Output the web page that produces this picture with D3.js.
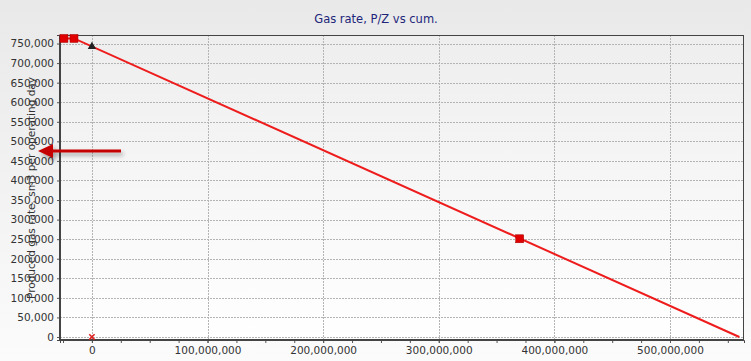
<!DOCTYPE html>
<html><head><meta charset="utf-8">
<script src="https://cdn.jsdelivr.net/npm/d3@7"></script>
<style>body{margin:0;background:#fff}svg{display:block}</style>
</head><body>
<svg id="c" width="751" height="361"></svg>
<script>
const title = "Gas rate, P/Z vs cum.";
const yTitle = "Produced gas rate, sm3 per operating day";
const xTicks = [0, 100e6, 200e6, 300e6, 400e6, 500e6];
const yTicks = [0,50000,100000,150000,200000,250000,300000,350000,400000,450000,500000,550000,600000,650000,700000,750000];
const lineX = [-24.2e6, -15.5e6, 560e6];
const lineY = [763000, 763000, 0];
const squareX = [-24.2e6, -15.5e6, 370e6];
const squareY = [763000, 763000, 251000];
const triX = [0];
const triY = [742000];
const crossX = [0];
const crossY = [0];

const svg = d3.select("#c");
const W = 751, H = 361;
const m = {l:60, r:7, t:35, b:21};
const defs = svg.append("defs");
const g1 = defs.append("linearGradient").attr("id","bg").attr("x1",0).attr("y1",0).attr("x2",0).attr("y2",1);
g1.append("stop").attr("offset","0%").attr("stop-color","#e9e9e9");
g1.append("stop").attr("offset","100%").attr("stop-color","#fbfbfb");
const g2 = defs.append("linearGradient").attr("id","pbg").attr("x1",0).attr("y1",0).attr("x2",0).attr("y2",1);
g2.append("stop").attr("offset","0%").attr("stop-color","#eeeeee");
g2.append("stop").attr("offset","100%").attr("stop-color","#ffffff");
const sh = defs.append("filter").attr("id","sh").attr("x","-20%").attr("y","-50%").attr("width","140%").attr("height","200%");
sh.append("feDropShadow").attr("dx",2).attr("dy",3).attr("stdDeviation",2).attr("flood-color","#000").attr("flood-opacity",0.35);

svg.append("rect").attr("width",W).attr("height",H).attr("fill","url(#bg)");

const x = d3.scaleLinear().domain([-27.6e6, 564e6]).range([m.l, W-m.r]);
const y = d3.scaleLinear().domain([-7700, 771800]).range([H-m.b, m.t]);

svg.append("rect").attr("x",m.l).attr("y",m.t).attr("width",W-m.r-m.l).attr("height",H-m.b-m.t).attr("fill","url(#pbg)");

// grid
svg.append("g").selectAll("line").data(yTicks).join("line")
  .attr("x1",m.l).attr("x2",W-m.r).attr("y1",d=>Math.round(y(d))+0.5).attr("y2",d=>Math.round(y(d))+0.5)
  .attr("stroke","#b4b4b4").attr("stroke-dasharray","2,1");
svg.append("g").selectAll("line").data(xTicks).join("line")
  .attr("y1",m.t).attr("y2",H-m.b).attr("x1",d=>Math.round(x(d))+0.5).attr("x2",d=>Math.round(x(d))+0.5)
  .attr("stroke","#b4b4b4").attr("stroke-dasharray","2,1");

// axes
const fmt = d3.format(",");
svg.append("g").attr("transform",`translate(0,${H-m.b})`)
  .call(d3.axisBottom(x).tickValues(xTicks).tickFormat(fmt).tickSize(3).tickPadding(4));
const minor = d3.range(-25e6, 564e6, 25e6);
svg.append("g").attr("transform",`translate(0,${H-m.b})`)
  .call(d3.axisBottom(x).tickValues(minor).tickFormat("").tickSize(3))
  .call(g=>g.select(".domain").remove());
svg.append("g").attr("transform",`translate(${m.l},0)`)
  .call(d3.axisLeft(y).tickValues(yTicks).tickFormat(fmt).tickSize(3).tickPadding(3));
svg.selectAll(".tick text").attr("font-family","DejaVu Sans, Verdana, sans-serif").attr("font-size","10.5px").attr("fill","#333");
svg.selectAll(".tick line").attr("stroke","#555");
svg.selectAll(".domain").attr("stroke","#444");

// border
svg.append("rect").attr("x",m.l+0.5).attr("y",m.t+0.5).attr("width",W-m.r-m.l-1).attr("height",H-m.b-m.t-1)
  .attr("fill","none").attr("stroke","#444").attr("stroke-width",1);
svg.append("line").attr("x1",m.l).attr("x2",m.l).attr("y1",m.t).attr("y2",H-m.b+1).attr("stroke","#444").attr("stroke-width",2);
svg.append("line").attr("x1",m.l).attr("x2",W-m.r).attr("y1",H-m.b).attr("y2",H-m.b).attr("stroke","#444").attr("stroke-width",2);

// title
svg.append("text").attr("x",376).attr("y",23).attr("text-anchor","middle")
  .attr("font-family","DejaVu Sans, Verdana, sans-serif").attr("font-size","11.5px").attr("fill","#22267a").text(title);
// y title
svg.append("text").attr("transform","translate(35,188) rotate(-90)").attr("text-anchor","middle")
  .attr("font-family","DejaVu Sans, Verdana, sans-serif").attr("font-size","10.5px").attr("fill","#333").text(yTitle);

// data
const pts = lineX.map((d,i)=>[d,lineY[i]]);
svg.append("path").datum(pts).attr("d",d3.line().x(d=>x(d[0])).y(d=>y(d[1])))
  .attr("fill","none").attr("stroke","#ee1c1c").attr("stroke-width",2);
svg.append("g").selectAll("rect").data(squareX.map((d,i)=>[d,squareY[i]])).join("rect")
  .attr("x",d=>x(d[0])-4).attr("y",d=>y(d[1])-4).attr("width",8).attr("height",8)
  .attr("fill","#e10000").attr("stroke","#a00000").attr("stroke-width",0.5);
svg.append("g").selectAll("path").data(triX.map((d,i)=>[d,triY[i]])).join("path")
  .attr("d",d3.symbol(d3.symbolTriangle,30)).attr("transform",d=>`translate(${x(d[0])},${y(d[1])})`)
  .attr("fill","#222");
svg.append("g").selectAll("path").data(crossX.map((d,i)=>[d,crossY[i]])).join("path")
  .attr("d",d3.symbol(d3.symbolX,20)).attr("transform",d=>`translate(${x(d[0])},${y(d[1])})`)
  .attr("fill","none").attr("stroke","#e02020").attr("stroke-width",1.5);

// annotation arrow
const ag = svg.append("g").attr("filter","url(#sh)");
ag.append("line").attr("x1",121).attr("x2",50).attr("y1",151).attr("y2",151).attr("stroke","#c40000").attr("stroke-width",3);
ag.append("path").attr("d","M38,151 L53,144 L53,158 Z").attr("fill","#c40000");
</script>
</body></html>
